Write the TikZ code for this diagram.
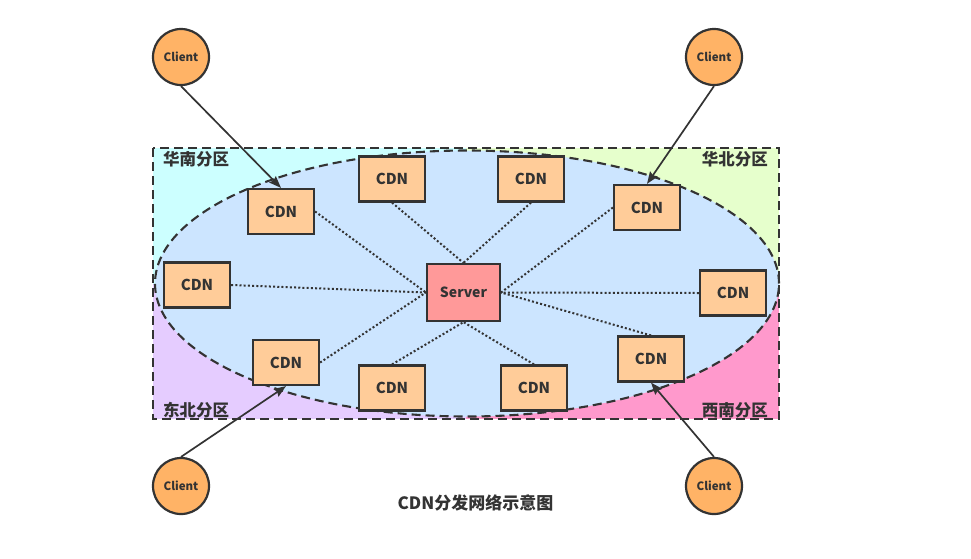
\documentclass[tikz,border=0pt]{standalone}
\usepackage{fontspec}
\setmainfont{Noto Sans CJK SC}
\usetikzlibrary{arrows.meta}
\definecolor{ink}{HTML}{333333}
\definecolor{cdnfill}{HTML}{FFCC99}
\definecolor{srvfill}{HTML}{FF9999}
\definecolor{clifill}{HTML}{FFB366}
\definecolor{ellfill}{HTML}{CCE5FF}
\definecolor{qtl}{HTML}{CCFFFF}
\definecolor{qtr}{HTML}{E6FFCC}
\definecolor{qbl}{HTML}{E5CCFF}
\definecolor{qbr}{HTML}{FF99CC}
\begin{document}
\begin{tikzpicture}[x=1pt,y=-1pt,
  cdnbox/.style={draw=ink, line width=2.2pt, fill=cdnfill, minimum width=66pt, minimum height=45pt, inner sep=0pt, font=\fontsize{15}{16}\selectfont\bfseries, text=ink},
  srvbox/.style={draw=ink, line width=2.2pt, fill=srvfill, minimum width=73pt, minimum height=57pt, inner sep=0pt, font=\fontsize{14}{16}\selectfont\bfseries, text=ink},
  clinode/.style={circle, draw=ink, line width=2.2pt, fill=clifill, minimum size=56pt, inner sep=0pt, font=\fontsize{11.5}{14}\selectfont\bfseries, text=ink},
  region/.style={font=\fontsize{16.5}{18}\selectfont\bfseries, text=ink, inner sep=0pt},
  dotline/.style={draw=ink, line width=2pt, dash pattern=on 2pt off 2.2pt},
  arr/.style={draw=ink, line width=1.7pt, -{Stealth[length=12pt, width=9pt, inset=1.5pt]}},
  dashb/.style={draw=ink, line width=2.1pt, dash pattern=on 9pt off 5pt}
]
\useasboundingbox (0,0) rectangle (971,558);
% quadrants
\fill[qtl] (153,148) rectangle (466,283.5);
\fill[qtr] (466,148) rectangle (779,283.5);
\fill[qbl] (153,283.5) rectangle (466,419);
\fill[qbr] (466,283.5) rectangle (779,419);
% ellipse
\path[fill=ellfill] (467,283.5) ellipse [x radius=312pt, y radius=133pt];
\draw[dashb] (467,283.5) ellipse [x radius=312pt, y radius=133pt];
\draw[dashb] (153,148) rectangle (779,419);
% region labels
\node[region, anchor=west] (lhn) at (163,159) {华南分区};
\node[region, anchor=east] (lhb) at (768,159) {华北分区};
\node[region, anchor=west] (ldb) at (163,410) {东北分区};
\node[region, anchor=east] (lxn) at (768,410) {西南分区};
% server
\node[srvbox] (srv) at (463.5,292.5) {Server};
% CDNs
\node[cdnbox] (c1) at (281,211.5) {CDN};
\node[cdnbox] (c2) at (392,179) {CDN};
\node[cdnbox] (c3) at (531,179) {CDN};
\node[cdnbox] (c4) at (647,207.5) {CDN};
\node[cdnbox] (c5) at (197,285) {CDN};
\node[cdnbox] (c6) at (733,293) {CDN};
\node[cdnbox] (c7) at (286,362.5) {CDN};
\node[cdnbox] (c8) at (392,388) {CDN};
\node[cdnbox] (c9) at (534,388) {CDN};
\node[cdnbox] (c10) at (651,359) {CDN};
% dotted links
\draw[dotline] (c1.east) -- (srv.west);
\draw[dotline] (c5.east) -- (srv.west);
\draw[dotline] (c7.east) -- (srv.west);
\draw[dotline] (c2.south) -- (srv.north);
\draw[dotline] (c3.south) -- (srv.north);
\draw[dotline] (c4.west) -- (srv.east);
\draw[dotline] (c6.west) -- (srv.east);
\draw[dotline] (c10.north) -- (srv.east);
\draw[dotline] (c8.north) -- (srv.south);
\draw[dotline] (c9.north) -- (srv.south);
% clients
\node[clinode] (k1) at (181,57) {Client};
\node[clinode] (k2) at (714,57) {Client};
\node[clinode] (k3) at (181,486) {Client};
\node[clinode] (k4) at (714,486) {Client};
\draw[arr] (k1.south) -- (c1.north);
\draw[arr] (k2.south) -- (c4.north);
\draw[arr] (k3.north) -- (c7.south);
\draw[arr] (k4.north) -- (c10.south);
% title
\node[font=\fontsize{17}{20}\selectfont\bfseries, text=ink] (title) at (475.5,503) {CDN分发网络示意图};
\end{tikzpicture}
\end{document}
